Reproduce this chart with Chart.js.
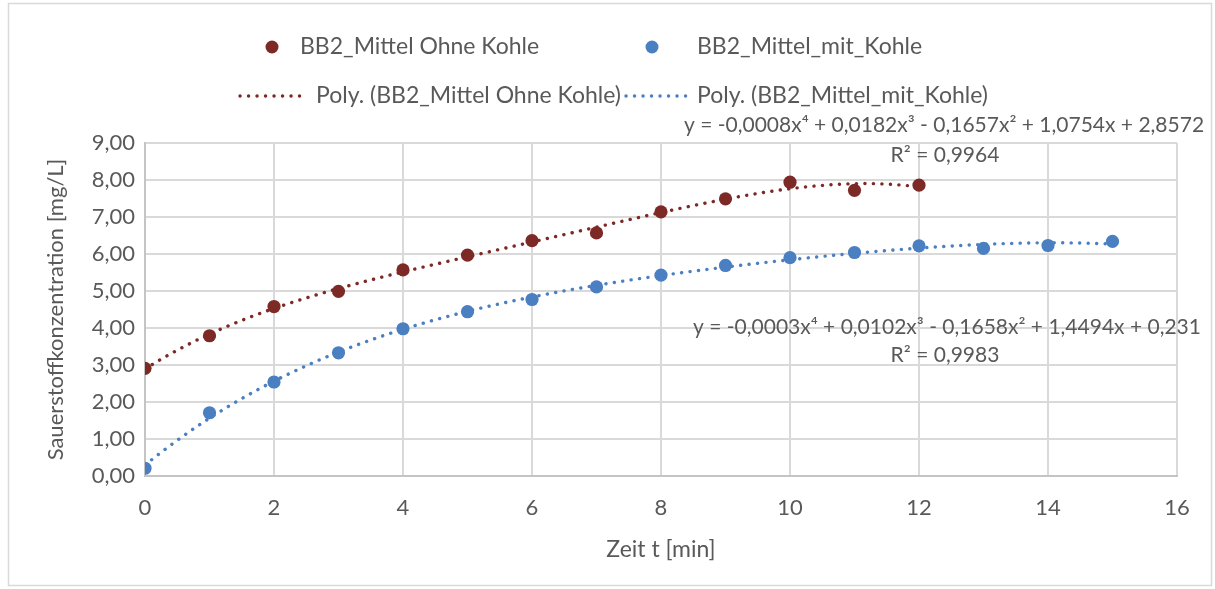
<!DOCTYPE html>
<html>
<head>
<meta charset="utf-8">
<script src="https://cdn.jsdelivr.net/npm/chart.js@4.4.1/dist/chart.umd.min.js"></script>
<style>
  html, body { margin: 0; padding: 0; background: #fff; }
  #wrap { width: 1215px; height: 589px; }
</style>
</head>
<body>
<div id="wrap"><canvas id="chart" width="1215" height="589"></canvas></div>
<script>
// --- measured series ---------------------------------------------
const zeitOhne   = [0, 1, 2, 3, 4, 5, 6, 7, 8, 9, 10, 11, 12];
const mittelOhne = [2.91, 3.79, 4.58, 4.99, 5.57, 5.97, 6.36, 6.57, 7.14, 7.49, 7.94, 7.72, 7.86];

const zeitMit    = [0, 1, 2, 3, 4, 5, 6, 7, 8, 9, 10, 11, 12, 13, 14, 15];
const mittelMit  = [0.21, 1.71, 2.54, 3.33, 3.98, 4.44, 4.77, 5.11, 5.43, 5.69, 5.90, 6.04, 6.22, 6.15, 6.23, 6.34];

// trendline equations as printed (highest power first)
const coefOhne = [-0.0008, 0.0182, -0.1657, 1.0754, 2.8572];
const r2Ohne   = 0.9964;
const coefMit  = [-0.0003, 0.0102, -0.1658, 1.4494, 0.231];
const r2Mit    = 0.9983;

const labelOhne = 'BB2_Mittel Ohne Kohle';
const labelMit  = 'BB2_Mittel_mit_Kohle';

const RED  = '#7d2a26';
const BLUE = '#4a7fc1';
const TEXT = '#595959';
const FONT = 'Lato, "Open Sans", sans-serif';

// -----------------------------
// 4th order least squares fit (Excel "Poly." trendline)
// -----------------------------
function polyfit(xs, ys, order) {
  const n = order + 1;
  const A = [];
  for (let i = 0; i < n; i++) {
    A.push(new Array(n + 1).fill(0));
    for (let j = 0; j < n; j++) {
      A[i][j] = xs.reduce((s, x) => s + Math.pow(x, i + j), 0);
    }
    A[i][n] = xs.reduce((s, x, k) => s + Math.pow(x, i) * ys[k], 0);
  }
  // gaussian elimination
  for (let c = 0; c < n; c++) {
    let p = c;
    for (let r = c + 1; r < n; r++) if (Math.abs(A[r][c]) > Math.abs(A[p][c])) p = r;
    [A[c], A[p]] = [A[p], A[c]];
    for (let r = 0; r < n; r++) {
      if (r === c) continue;
      const f = A[r][c] / A[c][c];
      for (let k = c; k <= n; k++) A[r][k] -= f * A[c][k];
    }
  }
  return A.map((row, i) => row[n] / row[i]);
}

const fitOhne = polyfit(zeitOhne, mittelOhne, 4);
const fitMit  = polyfit(zeitMit, mittelMit, 4);

function trendPoints(b, xMax) {
  const pts = [];
  for (let i = 0; i <= xMax * 10; i++) {
    const x = i / 10;
    pts.push({x, y: b.reduce((s, c, k) => s + c * Math.pow(x, k), 0)});
  }
  return pts;
}

const toXY = (xs, ys) => xs.map((x, i) => ({x, y: ys[i]}));
const comma = v => String(v).replace('.', ',');

function equationText(coef) {
  const pow = ['x\u2074', 'x\u00b3', 'x\u00b2', 'x', ''];
  let s = 'y = ';
  coef.forEach((c, i) => {
    const term = comma(Math.abs(c)) + pow[i];
    if (i === 0) s += (c < 0 ? '-' : '') + term;
    else s += (c < 0 ? ' - ' : ' + ') + term;
  });
  return s;
}

// -----------------------------
// Frame, legend and equation labels
// -----------------------------
const framePlugin = {
  id: 'frame',
  beforeDraw(chart) {
    const ctx = chart.ctx;
    ctx.save();
    ctx.fillStyle = '#fff';
    ctx.fillRect(0, 0, chart.width, chart.height);
    ctx.strokeStyle = '#d9d9d9';
    ctx.lineWidth = 1.5;
    ctx.strokeRect(8.5, 3.5, 1203, 582);
    ctx.restore();
  }
};

function dotLine(ctx, x1, x2, y, color) {
  ctx.save();
  ctx.strokeStyle = color;
  ctx.lineWidth = 3.4;
  ctx.lineCap = 'round';
  ctx.setLineDash([0.1, 8.4]);
  ctx.beginPath();
  ctx.moveTo(x1, y);
  ctx.lineTo(x2, y);
  ctx.stroke();
  ctx.restore();
}

function dot(ctx, x, y, color) {
  ctx.save();
  ctx.fillStyle = color;
  ctx.beginPath();
  ctx.arc(x, y, 6.5, 0, Math.PI * 2);
  ctx.fill();
  ctx.restore();
}

const notesPlugin = {
  id: 'notes',
  afterDraw(chart) {
    const ctx = chart.ctx;
    ctx.save();
    ctx.fillStyle = TEXT;
    ctx.font = '23px ' + FONT;
    ctx.textBaseline = 'middle';
    ctx.textAlign = 'left';

    // legend
    dot(ctx, 272, 47, RED);
    ctx.fillText(labelOhne, 300, 47);
    dot(ctx, 652, 47, BLUE);
    ctx.fillText(labelMit, 697, 47);
    dotLine(ctx, 240, 300, 96, RED);
    ctx.fillText('Poly. (' + labelOhne + ')', 316, 96);
    dotLine(ctx, 626, 688, 96, BLUE);
    ctx.fillText('Poly. (' + labelMit + ')', 697, 96);

    // trendline equations
    ctx.font = '21px ' + FONT;
    ctx.textAlign = 'center';
    ctx.fillText(equationText(coefOhne), 944, 125);
    ctx.fillText('R\u00b2 = ' + comma(r2Ohne), 945, 155);
    ctx.fillText(equationText(coefMit), 947, 327);
    ctx.fillText('R\u00b2 = ' + comma(r2Mit), 945, 355);
    ctx.restore();
  }
};

// -----------------------------
// Chart
// -----------------------------
const trendStyle = color => ({
  showLine: true,
  pointRadius: 0,
  borderColor: color,
  borderWidth: 3.4,
  borderDash: [0.1, 8.4],
  borderCapStyle: 'round',
  fill: false,
  order: 1
});

new Chart(document.getElementById('chart'), {
  type: 'scatter',
  data: {
    datasets: [
      {label: labelOhne, data: toXY(zeitOhne, mittelOhne), backgroundColor: RED, borderColor: RED,
       pointRadius: 6.6, pointBorderWidth: 0, order: 2},
      {label: labelMit, data: toXY(zeitMit, mittelMit), backgroundColor: BLUE, borderColor: BLUE,
       pointRadius: 6.6, pointBorderWidth: 0, order: 2},
      Object.assign({label: 'Poly. (' + labelOhne + ')', data: trendPoints(fitOhne, 12)}, trendStyle(RED)),
      Object.assign({label: 'Poly. (' + labelMit + ')', data: trendPoints(fitMit, 15)}, trendStyle(BLUE))
    ]
  },
  options: {
    responsive: false,
    animation: false,
    layout: {padding: {left: 0, right: 38, top: 143, bottom: 0}},
    plugins: {legend: {display: false}, tooltip: {enabled: false}},
    scales: {
      x: {
        type: 'linear', min: 0, max: 16,
        afterFit: s => { s.height = 113; },
        ticks: {stepSize: 2, color: TEXT, font: {family: FONT, size: 22}, padding: 19},
        grid: {color: '#d9d9d9', lineWidth: 2, drawTicks: false},
        border: {color: '#c4c4c4', width: 2},
        title: {display: true, text: 'Zeit t [min]', color: TEXT, font: {family: FONT, size: 23},
                padding: {bottom: 26}}
      },
      y: {
        min: 0, max: 9,
        afterFit: s => { s.width = 145; },
        ticks: {stepSize: 1, color: TEXT, font: {family: FONT, size: 22}, padding: 10,
                callback: v => v.toFixed(2).replace('.', ',')},
        grid: {color: '#d9d9d9', lineWidth: 2, drawTicks: false},
        border: {color: '#c4c4c4', width: 2},
        title: {display: true, text: 'Sauerstoffkonzentration [mg/L]', color: TEXT,
                font: {family: FONT, size: 22}, padding: {top: 43}}
      }
    }
  },
  plugins: [framePlugin, notesPlugin]
});
</script>
</body>
</html>
